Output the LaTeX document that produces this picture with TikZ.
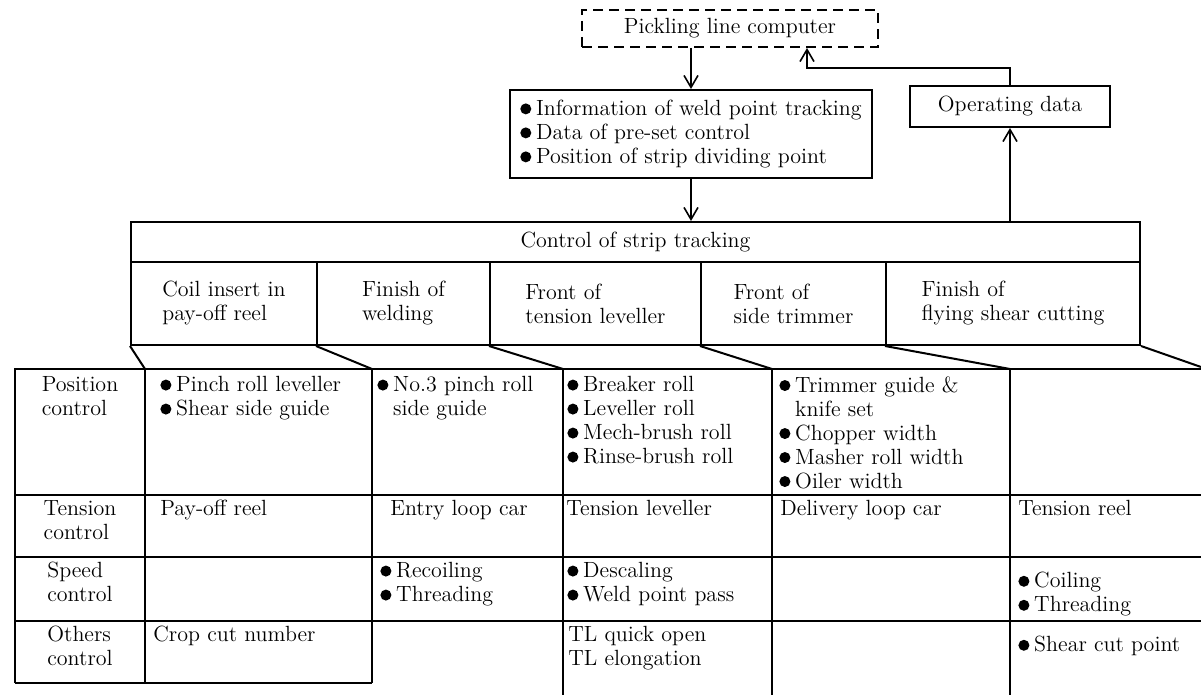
\documentclass[tikz,border=0pt]{standalone}
\usepackage{tikz}
\usetikzlibrary{arrows.meta}
\newcommand{\bul}{\tikz[baseline=0pt]\fill (0pt,0.3em) circle (0.25em);\hspace{0.22em}}
\newcommand{\nobul}{\hspace{0.72em}}

\begin{document}
\begin{tikzpicture}[x=0.5pt,y=-0.5pt,font=\fontsize{11}{12}\selectfont]
    \tikzset{box/.style = {draw,line width=1pt,inner sep=0pt,align=left}}
    \tikzset{cell/.style = {anchor=north west,inner sep=0pt,align=left}}
    \tikzset{head/.style = {anchor=north,inner sep=0pt,align=left}}
    \tikzset{grid/.style = {line width=1pt}}
    \tikzset{edge/.style = {->,line width=0.8pt,> = {Straight Barb[length=6pt,width=7pt]}}}
    \useasboundingbox (0,0) rectangle (1201,695);
    % computer side
    \node[box,dash pattern=on 5pt off 3pt,minimum width=148pt,minimum height=18.5pt] (plc) at (730,28.5) {Pickling line computer};
    \node[box,minimum width=181pt,minimum height=44pt] (info) at (691,134)
        {\bul Information of weld point tracking\\\bul Data of pre-set control\\\bul Position of strip dividing point};
    \node[box,minimum width=100pt,minimum height=20.5pt] (opd) at (1010,106.5) {Operating data};
    \coordinate (ret) at (807,68);
%%%%%%%%%%%%%%%%%
    \node[box,minimum width=504.5pt,minimum height=20pt] (track) at (635.5,242) {Control of strip tracking};
    \node[box,minimum width=93pt,minimum height=41.5pt] (ev1) at (224,303.5) {Coil insert in\\pay-off reel};
    \node[box,minimum width=86.5pt,minimum height=41.5pt] (ev2) at (403.5,303.5) {Finish of\\welding};
    \node[box,minimum width=105.5pt,minimum height=41.5pt] (ev3) at (595.5,303.5) {Front of\\tension leveller};
    \node[box,minimum width=92.5pt,minimum height=41.5pt] (ev4) at (793.5,303.5) {Front of\\side trimmer};
    \node[box,minimum width=127pt,minimum height=41.5pt] (ev5) at (1013,303.5) {Finish of\\flying shear cutting};
    % links
    \draw[edge] (plc.south -| info.north) -- (info.north);
    \draw[edge] (info.south) -- (info.south |- track.north);
    \draw[edge] (opd.south |- track.north) -- (opd.south);
    \draw[edge] (opd.north) |- (ret) -- (plc.south -| ret);
%%%%%%%%%%%%%%%%%
    % table corners
    \coordinate (c0) at (15,369);
    \coordinate (c1) at (145,369);
    \coordinate (c2) at (372,369);
    \coordinate (c3) at (563,369);
    \coordinate (c4) at (772,369);
    \coordinate (c5) at (1010,369);
    \coordinate (c6) at (1201,367);
    \draw[grid] (ev1.south west) -- (c1);
    \draw[grid] (ev2.south west) -- (c2);
    \draw[grid] (ev3.south west) -- (c3);
    \draw[grid] (ev4.south west) -- (c4);
    \draw[grid] (ev5.south west) -- (c5);
    \draw[grid] (ev5.south east) -- (c6);
    \draw[grid] (15,683) -- (c0) -- (1201,369);
    \draw[grid] (15,495) -- (1201,495);
    \draw[grid] (15,557) -- (1201,557);
    \draw[grid] (15,621) -- (1201,621);
    \draw[grid] (15,683) -- (372,683);
    \draw[grid] (c1) -- (145,683);
    \draw[grid] (c2) -- (372,683);
    \draw[grid] (c3) -- (563,695);
    \draw[grid] (c4) -- (772,695);
    \draw[grid] (c5) -- (1010,695);
%%%%%%%%%%%%%%%%%
    % row heads
    \node[head] (hpos) at (80,376) {Position\\control};
    \node[head] (hten) at (80,500) {Tension\\control};
    \node[head] (hspd) at (80,562) {Speed\\control};
    \node[head] (hoth) at (80,626) {Others\\control};
    % position control
    \node[cell] (pos1) at (160,376) {\bul Pinch roll leveller\\\bul Shear side guide};
    \node[cell] (pos2) at (377,376) {\bul No.3 pinch roll\\\nobul side guide};
    \node[cell] (pos3) at (567,376) {\bul Breaker roll\\\bul Leveller roll\\\bul Mech-brush roll\\\bul Rinse-brush roll};
    \node[cell] (pos4) at (779,376) {\bul Trimmer guide \&\\\nobul knife set\\\bul Chopper width\\\bul Masher roll width\\\bul Oiler width};
    % tension control
    \node[cell] (ten1) at (160,500) {Pay-off reel};
    \node[cell] (ten2) at (390,500) {Entry loop car};
    \node[cell] (ten3) at (566,500) {Tension leveller};
    \node[cell] (ten4) at (780,500) {Delivery loop car};
    \node[cell] (ten5) at (1018,500) {Tension reel};
    % speed control
    \node[cell] (spd2) at (380,562) {\bul Recoiling\\\bul Threading};
    \node[cell] (spd3) at (567,562) {\bul Descaling\\\bul Weld point pass};
    \node[cell] (spd5) at (1018,572) {\bul Coiling\\\bul Threading};
    % others control
    \node[cell] (oth1) at (153,626) {Crop cut number};
    \node[cell] (oth3) at (568,626) {TL quick open\\TL elongation};
    \node[cell] (oth5) at (1018,636) {\bul Shear cut point};
\end{tikzpicture}
\end{document}
